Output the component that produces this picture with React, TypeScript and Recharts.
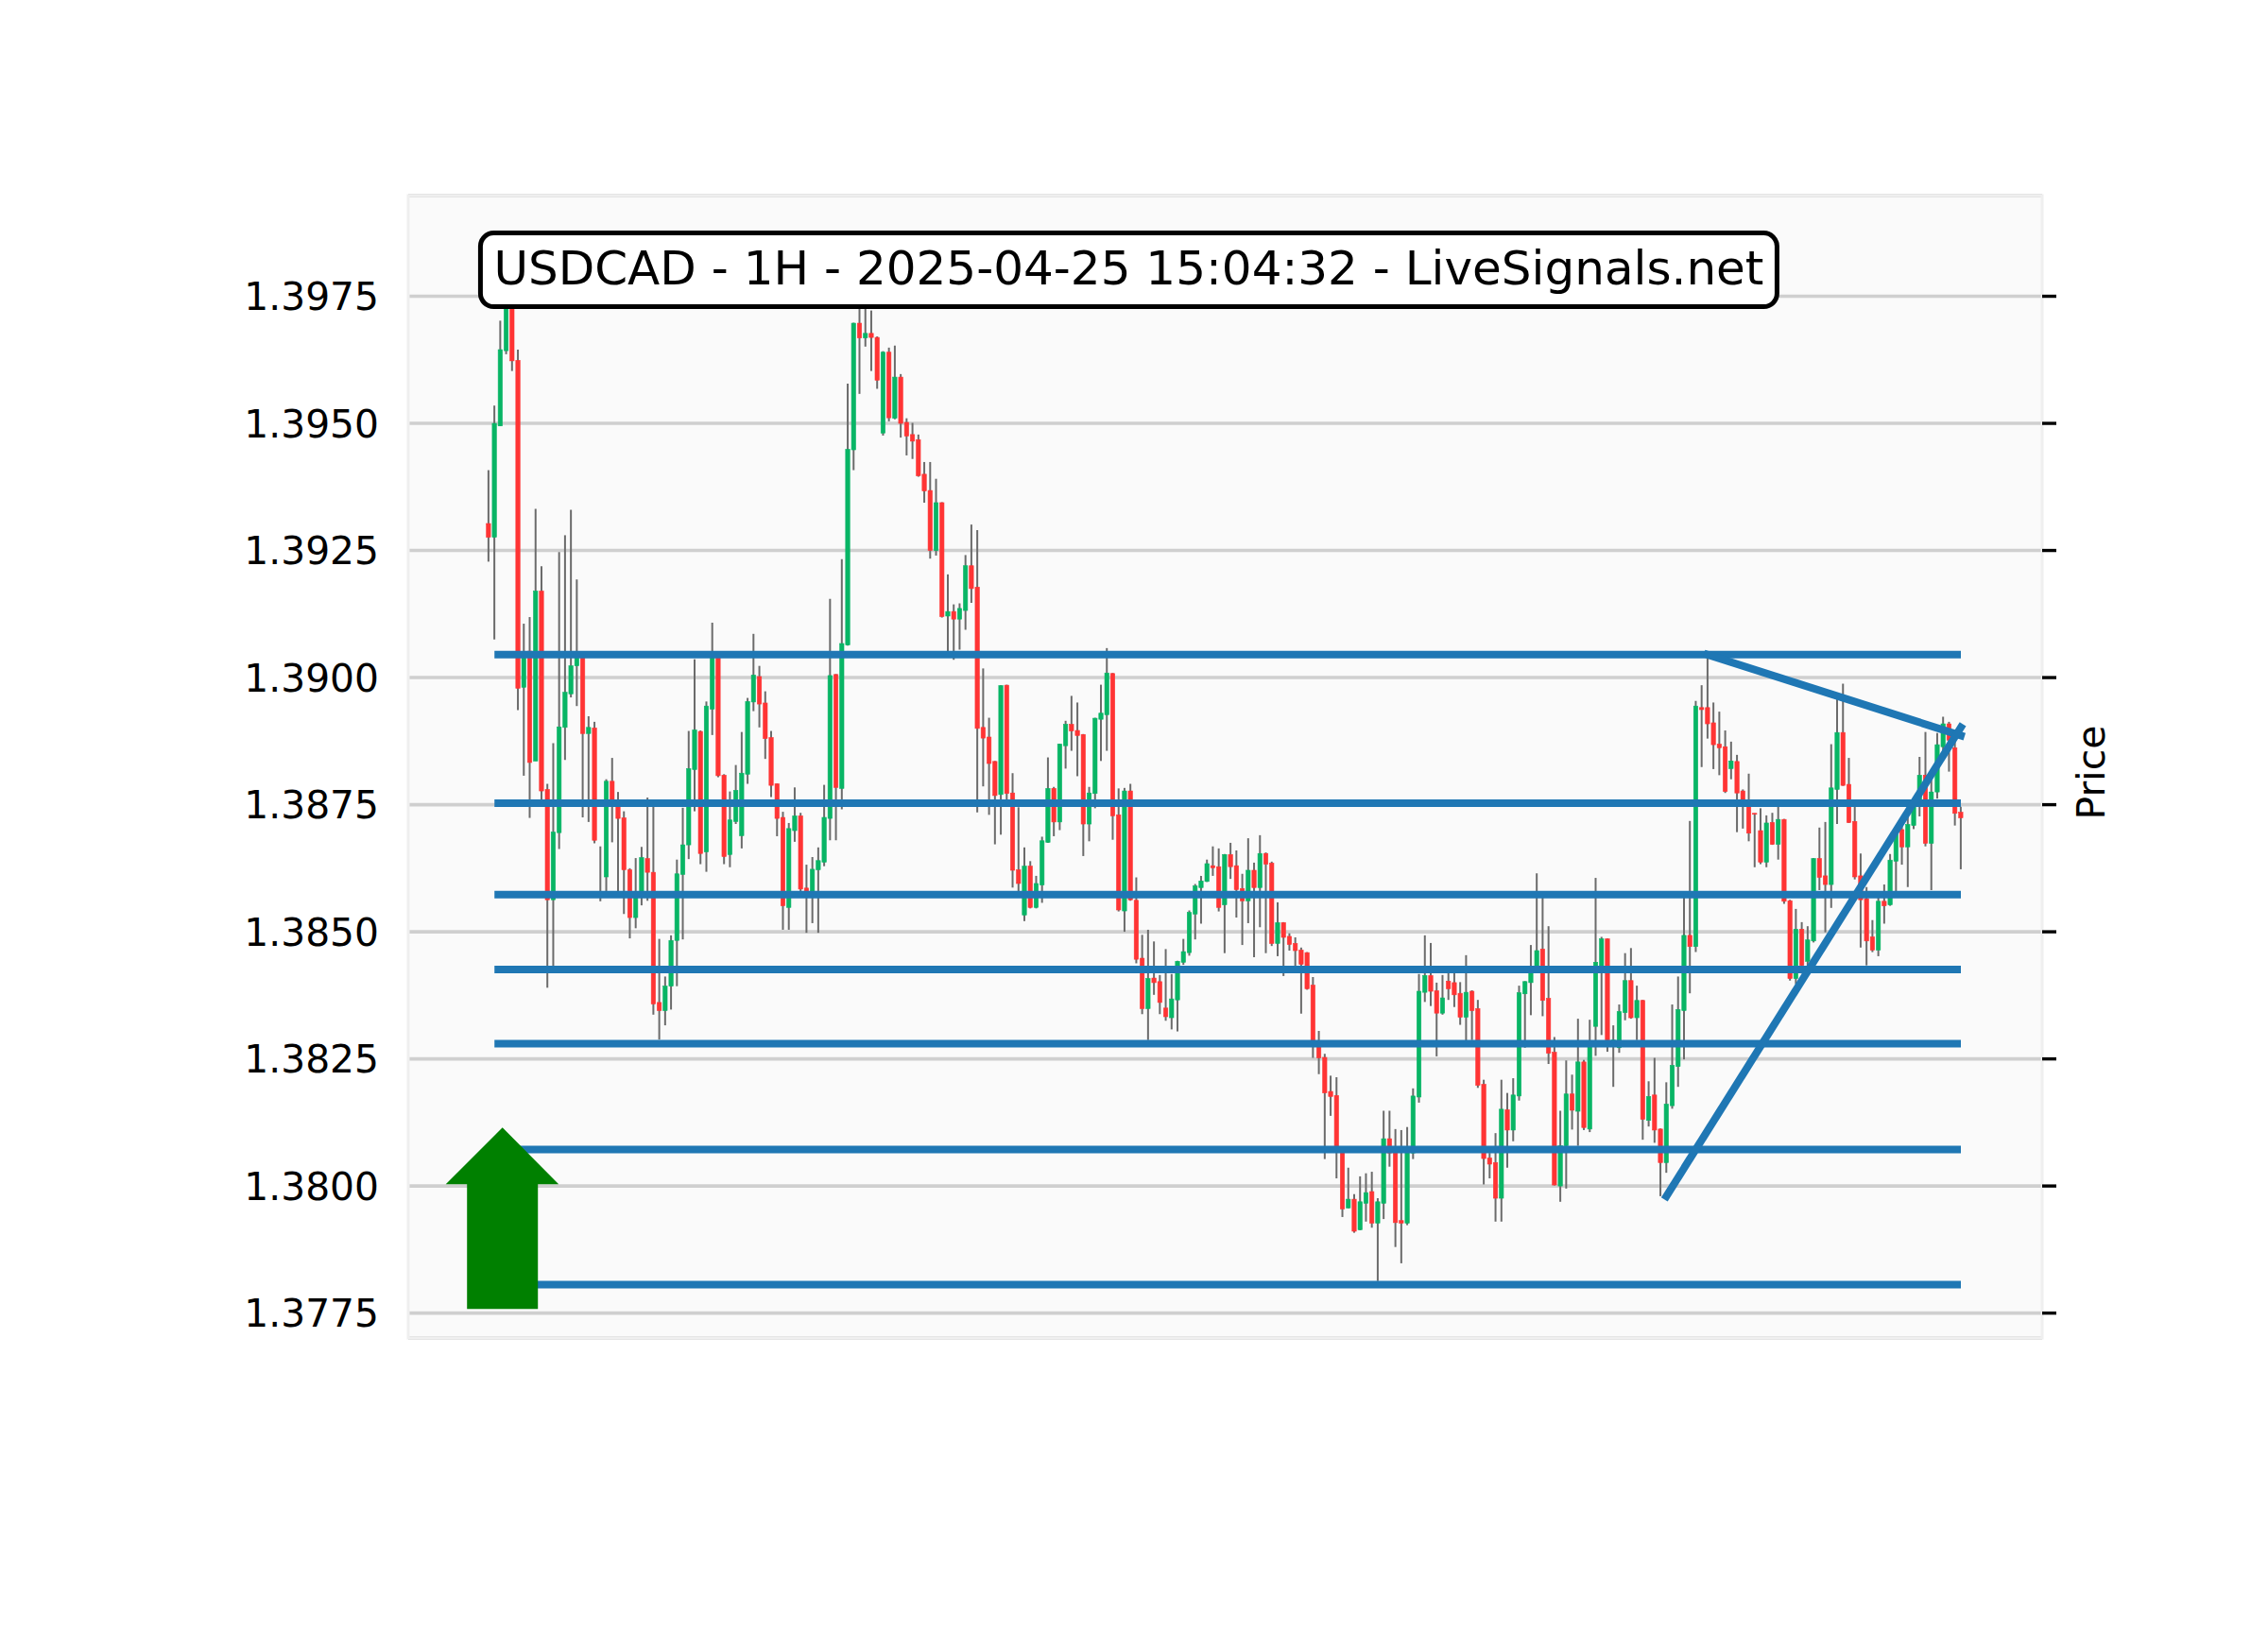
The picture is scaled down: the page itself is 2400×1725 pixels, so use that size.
import React from "react";
import { ComposedChart, Bar, Line, XAxis, YAxis, CartesianGrid, ReferenceDot, ReferenceArea } from "recharts";

const opens = [
1.39303,1.39276,1.39495,1.39643,1.39780,1.39624,1.38981,1.39052,1.38836,1.39170,
1.38780,1.38563,1.38695,1.38902,1.38968,1.39023,1.39039,1.38890,1.38901,1.38568,
1.38608,1.38796,1.38748,1.38724,1.38622,1.38528,1.38574,1.38644,1.38617,1.38361,
1.38345,1.38393,1.38483,1.38613,1.38671,1.38819,1.38894,1.38657,1.38938,1.39040,
1.38808,1.38652,1.38717,1.38689,1.38810,1.38952,1.39002,1.38950,1.38882,1.38791,
1.38725,1.38548,1.38699,1.38728,1.38586,1.38580,1.38622,1.38637,1.38723,1.39006,
1.38782,1.39064,1.39448,1.39697,1.39668,1.39677,1.39669,1.39481,1.39640,1.39510,
1.39591,1.39502,1.39478,1.39468,1.39400,1.39368,1.39250,1.39344,1.39121,1.39130,
1.39115,1.39132,1.39220,1.39178,1.38902,1.38883,1.38835,1.38770,1.38985,1.38773,
1.38622,1.38533,1.38629,1.38548,1.38592,1.38676,1.38782,1.38716,1.38866,1.38908,
1.38896,1.38888,1.38712,1.38772,1.38918,1.38927,1.39008,1.38730,1.38541,1.38777,
1.38562,1.38448,1.38349,1.38409,1.38402,1.38350,1.38331,1.38366,1.38440,1.38459,
1.38535,1.38587,1.38599,1.38630,1.38628,1.38553,1.38652,1.38630,1.38585,1.38561,
1.38621,1.38587,1.38654,1.38635,1.38477,1.38518,1.38491,1.38477,1.38464,1.38459,
1.38395,1.38279,1.38253,1.38186,1.38178,1.38072,1.37957,1.37974,1.37914,1.37966,
1.37989,1.37927,1.37966,1.38093,1.38072,1.37932,1.37927,1.38065,1.38175,1.38381,
1.38414,1.38384,1.38340,1.38403,1.38400,1.38379,1.38332,1.38383,1.38349,1.38200,
1.38055,1.38046,1.37976,1.38150,1.38110,1.38177,1.38378,1.38400,1.38420,1.38466,
1.38369,1.38263,1.38000,1.38079,1.38181,1.38147,1.38244,1.38112,1.38314,1.38421,
1.38486,1.38275,1.38272,1.38341,1.38404,1.38331,1.38365,1.38129,1.38179,1.38112,
1.38046,1.38158,1.38235,1.38345,1.38493,1.38471,1.38941,1.38941,1.38911,1.38869,
1.38864,1.38821,1.38835,1.38777,1.38756,1.38733,1.38699,1.38637,1.38715,1.38672,
1.38721,1.38561,1.38408,1.38505,1.38442,1.38482,1.38644,1.38610,1.38593,1.38780,
1.38892,1.38790,1.38717,1.38610,1.38565,1.38490,1.38464,1.38560,1.38553,1.38639,
1.38701,1.38667,1.38709,1.38760,1.38808,1.38674,1.38775,1.38864,1.38909,1.38862,
1.38735];

const closes = [
1.39276,1.39500,1.39645,1.39780,1.39623,1.38979,1.39047,1.38833,1.39170,1.38777,
1.38563,1.38696,1.38903,1.38971,1.39023,1.39039,1.38890,1.38902,1.38680,1.38578,
1.38796,1.38747,1.38723,1.38622,1.38528,1.38571,1.38646,1.38617,1.38358,1.38345,
1.38393,1.38483,1.38614,1.38671,1.38821,1.38897,1.38654,1.38944,1.39040,1.38807,
1.38648,1.38720,1.38778,1.38812,1.38953,1.39005,1.38948,1.38880,1.38788,1.38723,
1.38551,1.38703,1.38728,1.38584,1.38578,1.38623,1.38640,1.38725,1.39004,1.38784,
1.39067,1.39449,1.39697,1.39668,1.39677,1.39669,1.39585,1.39640,1.39511,1.39591,
1.39500,1.39475,1.39465,1.39397,1.39367,1.39250,1.39344,1.39120,1.39130,1.39115,
1.39136,1.39220,1.39175,1.38900,1.38881,1.38831,1.38768,1.38984,1.38772,1.38621,
1.38595,1.38629,1.38548,1.38595,1.38679,1.38782,1.38716,1.38869,1.38908,1.38895,
1.38886,1.38712,1.38773,1.38920,1.38930,1.39009,1.38728,1.38543,1.38777,1.38563,
1.38446,1.38349,1.38408,1.38400,1.38361,1.38333,1.38368,1.38442,1.38461,1.38538,
1.38590,1.38600,1.38634,1.38626,1.38548,1.38652,1.38628,1.38583,1.38561,1.38621,
1.38587,1.38654,1.38633,1.38477,1.38518,1.38489,1.38475,1.38463,1.38436,1.38388,
1.38282,1.38252,1.38183,1.38176,1.38068,1.37955,1.37974,1.37911,1.37969,1.37987,
1.37927,1.37969,1.38093,1.38065,1.37928,1.37927,1.38072,1.38177,1.38383,1.38414,
1.38383,1.38340,1.38370,1.38388,1.38376,1.38332,1.38381,1.38345,1.38198,1.38054,
1.38043,1.37976,1.38151,1.38110,1.38179,1.38380,1.38402,1.38421,1.38463,1.38365,
1.38261,1.38002,1.38079,1.38181,1.38149,1.38244,1.38115,1.38274,1.38440,1.38486,
1.38287,1.38287,1.38343,1.38404,1.38331,1.38365,1.38131,1.38176,1.38110,1.38046,
1.38161,1.38237,1.38347,1.38493,1.38471,1.38944,1.38937,1.38909,1.38868,1.38862,
1.38776,1.38836,1.38773,1.38758,1.38694,1.38732,1.38637,1.38714,1.38672,1.38721,
1.38560,1.38408,1.38505,1.38434,1.38484,1.38644,1.38607,1.38593,1.38783,1.38892,
1.38788,1.38715,1.38608,1.38563,1.38482,1.38464,1.38560,1.38551,1.38641,1.38692,
1.38667,1.38711,1.38749,1.38808,1.38674,1.38775,1.38868,1.38909,1.38877,1.38733,
1.38724];

const highs = [
1.39408,1.39535,1.39702,1.39810,1.39800,1.39645,1.39106,1.39119,1.39332,1.39219,
1.38791,1.38871,1.39247,1.39280,1.39330,1.39193,1.39045,1.38924,1.38913,1.38668,
1.38800,1.38842,1.38775,1.38737,1.38625,1.38645,1.38667,1.38764,1.38747,1.38486,
1.38412,1.38493,1.38642,1.38744,1.38895,1.39036,1.38896,1.38953,1.39108,1.39045,
1.38810,1.38776,1.38828,1.38893,1.38960,1.39086,1.39023,1.38973,1.38895,1.38792,
1.38736,1.38714,1.38784,1.38734,1.38632,1.38647,1.38666,1.38789,1.39155,1.39007,
1.39233,1.39578,1.39698,1.39735,1.39735,1.39722,1.39671,1.39642,1.39649,1.39653,
1.39597,1.39510,1.39501,1.39478,1.39424,1.39424,1.39391,1.39345,1.39203,1.39144,
1.39146,1.39241,1.39301,1.39290,1.39018,1.38921,1.38836,1.38985,1.38986,1.38812,
1.38745,1.38666,1.38639,1.38610,1.38687,1.38843,1.38785,1.38870,1.38915,1.38964,
1.38951,1.38889,1.38785,1.38921,1.38986,1.39058,1.39009,1.38782,1.38783,1.38791,
1.38607,1.38494,1.38504,1.38481,1.38415,1.38466,1.38417,1.38443,1.38486,1.38542,
1.38594,1.38610,1.38642,1.38668,1.38664,1.38653,1.38675,1.38660,1.38614,1.38684,
1.38636,1.38690,1.38656,1.38638,1.38558,1.38519,1.38497,1.38489,1.38469,1.38460,
1.38411,1.38305,1.38260,1.38217,1.38214,1.38073,1.38036,1.37984,1.38019,1.38025,
1.38028,1.37976,1.38148,1.38148,1.38112,1.38110,1.38116,1.38192,1.38417,1.38493,
1.38478,1.38400,1.38415,1.38423,1.38423,1.38401,1.38454,1.38385,1.38366,1.38209,
1.38065,1.38104,1.38209,1.38183,1.38212,1.38394,1.38403,1.38474,1.38615,1.38568,
1.38511,1.38293,1.38148,1.38247,1.38219,1.38329,1.38248,1.38327,1.38606,1.38490,
1.38487,1.38316,1.38357,1.38458,1.38468,1.38394,1.38366,1.38206,1.38252,1.38113,
1.38204,1.38357,1.38412,1.38568,1.38718,1.38954,1.38985,1.39041,1.38951,1.38933,
1.38896,1.38874,1.38848,1.38780,1.38811,1.38733,1.38743,1.38729,1.38734,1.38746,
1.38722,1.38563,1.38545,1.38519,1.38511,1.38645,1.38705,1.38716,1.38869,1.38959,
1.38988,1.38842,1.38746,1.38654,1.38588,1.38523,1.38568,1.38593,1.38653,1.38705,
1.38710,1.38728,1.38750,1.38844,1.38893,1.38802,1.38891,1.38923,1.38913,1.38877,
1.38746];

const lows = [
1.39228,1.39075,1.39495,1.39636,1.39603,1.38936,1.38807,1.38724,1.38836,1.38758,
1.38390,1.38432,1.38663,1.38838,1.38961,1.38944,1.38725,1.38716,1.38674,1.38560,
1.38578,1.38676,1.38578,1.38535,1.38487,1.38507,1.38552,1.38561,1.38337,1.38288,
1.38316,1.38347,1.38393,1.38485,1.38643,1.38737,1.38633,1.38618,1.38887,1.38804,
1.38633,1.38627,1.38712,1.38664,1.38791,1.38934,1.38902,1.38840,1.38765,1.38688,
1.38504,1.38504,1.38677,1.38580,1.38498,1.38517,1.38498,1.38629,1.38680,1.38680,
1.38741,1.39063,1.39408,1.39558,1.39651,1.39603,1.39568,1.39476,1.39504,1.39508,
1.39472,1.39437,1.39430,1.39395,1.39344,1.39234,1.39240,1.39118,1.39052,1.39035,
1.39055,1.39094,1.39147,1.38735,1.38786,1.38730,1.38672,1.38691,1.38760,1.38587,
1.38578,1.38521,1.38546,1.38546,1.38557,1.38675,1.38688,1.38700,1.38821,1.38856,
1.38806,1.38649,1.38678,1.38743,1.38836,1.38856,1.38681,1.38540,1.38500,1.38561,
1.38438,1.38338,1.38287,1.38376,1.38338,1.38325,1.38308,1.38304,1.38435,1.38453,
1.38485,1.38516,1.38598,1.38610,1.38540,1.38458,1.38604,1.38528,1.38474,1.38517,
1.38450,1.38509,1.38458,1.38472,1.38452,1.38413,1.38463,1.38433,1.38339,1.38386,
1.38252,1.38220,1.38053,1.38138,1.38015,1.37939,1.37956,1.37908,1.37913,1.37930,
1.37918,1.37813,1.37935,1.38038,1.37880,1.37848,1.37923,1.38053,1.38164,1.38362,
1.38354,1.38255,1.38337,1.38366,1.38352,1.38317,1.38282,1.38287,1.38193,1.38003,
1.38015,1.37930,1.37930,1.38036,1.38088,1.38168,1.38272,1.38336,1.38419,1.38334,
1.38240,1.38001,1.37969,1.37995,1.38111,1.38079,1.38110,1.38106,1.38256,1.38297,
1.38264,1.38195,1.38262,1.38326,1.38329,1.38287,1.38091,1.38117,1.38085,1.37980,
1.38026,1.38152,1.38195,1.38249,1.38379,1.38460,1.38824,1.38880,1.38820,1.38808,
1.38773,1.38800,1.38696,1.38703,1.38678,1.38627,1.38633,1.38627,1.38671,1.38642,
1.38555,1.38404,1.38397,1.38418,1.38432,1.38479,1.38582,1.38499,1.38547,1.38712,
1.38787,1.38714,1.38603,1.38469,1.38434,1.38460,1.38452,1.38516,1.38551,1.38578,
1.38632,1.38588,1.38702,1.38727,1.38668,1.38582,1.38762,1.38836,1.38815,1.38709,
1.38623];

const levels = [1.39045, 1.38753, 1.38573, 1.38426, 1.3828, 1.38072, 1.37806];
const levelStart = 1;
const levelEnd = 250;
const resistance = { from: 207, to: 250, fromPrice: 1.39045, toPrice: 1.38886 };
const support = { from: 200, to: 250, fromPrice: 1.3798, toPrice: 1.38902 };
const priceTicks = [1.3775, 1.38, 1.3825, 1.385, 1.3875, 1.39, 1.3925, 1.395, 1.3975];
const titleText = "USDCAD - 1H - 2025-04-25 15:04:32 - LiveSignals.net";
const yDomain = [1.37701, 1.39948];
const xDomain = [-13.64, 263.8];

const UP = "#08b565";
const DOWN = "#ff3434";
const WICK = "#6b6b6b";
const BLUE = "#1f77b4";
const FONT = "'DejaVu Sans', sans-serif";
const LINE_W = 8;

const rows = opens.map((o, i) => {
  const row: any = { i, open: o, close: closes[i], high: highs[i], low: lows[i] };
  levels.forEach((v, k) => {
    row["level" + k] = i >= levelStart && i <= levelEnd ? v : null;
  });
  row.res = i === resistance.from ? resistance.fromPrice : i === resistance.to ? resistance.toPrice : null;
  row.sup = i === support.from ? support.fromPrice : i === support.to ? support.toPrice : null;
  return row;
});

function Candle(props: any) {
  const { x, y, width, height, payload } = props;
  const { open, close, high, low } = payload;
  const h = Math.abs(height);
  const top = Math.min(y, y + height);
  const perPrice = h / (high - low);
  const cx = x + width / 2;
  const bodyTop = top + (high - Math.max(open, close)) * perPrice;
  const bodyH = Math.max(Math.abs(open - close) * perPrice, 1);
  const up = close >= open;
  return (
    <g>
      <line x1={cx} x2={cx} y1={top} y2={top + h} stroke={WICK} strokeWidth={2} />
      <rect x={cx - 2.2} y={bodyTop} width={4.4} height={bodyH} fill={up ? UP : DOWN} stroke={up ? UP : DOWN} strokeWidth={0.6} />
    </g>
  );
}

function Arrow(props: any) {
  const { cx, cy } = props;
  const pts = [
    [cx - 37.5, cy],
    [cx - 37.5, cy - 132],
    [cx - 60, cy - 132],
    [cx, cy - 192],
    [cx + 59.5, cy - 132],
    [cx + 37.5, cy - 132],
    [cx + 37.5, cy],
  ];
  return <polygon points={pts.map((p) => p.join(",")).join(" ")} fill="#008000" />;
}

function TitleBox(props: any) {
  const { cx, cy } = props;
  return (
    <g>
      <rect x={cx - 686} y={cy - 39} width={1372} height={78} rx={14} ry={14} fill="#ffffff" stroke="#000000" strokeWidth={5} />
      <text x={cx} y={cy + 15} textAnchor="middle" fontFamily={FONT} fontSize={50} fill="#000000">
        {titleText}
      </text>
    </g>
  );
}

function PriceLabel(props: any) {
  const { viewBox } = props;
  const x = viewBox.x + 52;
  const y = viewBox.y + viewBox.height / 2 + 6;
  return (
    <text
      x={x}
      y={y}
      textAnchor="middle"
      fontFamily={FONT}
      fontSize={41}
      fill="#000"
      transform={`rotate(-90 ${x} ${y})`}
      dominantBaseline="central"
    >
      Price
    </text>
  );
}

const NoTick = () => <g />;

export default function App() {
  return (
    <div style={{ position: "absolute", left: 0, top: 0, width: 2400, height: 1725, background: "#fff" }}>
      <ComposedChart
        width={2400}
        height={1725}
        data={rows}
        margin={{ top: 207, right: 0, bottom: 309, left: 0 }}
        barCategoryGap={0}
      >
        <CartesianGrid horizontal vertical={false} stroke="#cfcfcf" strokeWidth={3.6} fill="#fafafa" />
        <XAxis dataKey="i" type="number" domain={xDomain} hide allowDataOverflow />
        <YAxis
          type="number"
          domain={yDomain}
          ticks={priceTicks}
          allowDataOverflow
          interval={0}
          width={432}
          axisLine={false}
          tickLine={false}
          tickSize={0}
          tickMargin={31}
          tickFormatter={(v: number) => v.toFixed(4)}
          tick={{ fill: "#000", fontSize: 40.8, fontFamily: FONT }}
        />
        <YAxis
          yAxisId="right"
          orientation="right"
          type="number"
          domain={yDomain}
          ticks={priceTicks}
          allowDataOverflow
          interval={0}
          width={239}
          axisLine={false}
          tickSize={15}
          tickLine={{ stroke: "#000", strokeWidth: 3.4 }}
          tick={NoTick}
          label={<PriceLabel />}
        />
        <ReferenceArea x1={xDomain[0]} x2={xDomain[1]} y1={yDomain[0]} y2={yDomain[1]} fill="none" stroke="#efefef" strokeWidth={3} ifOverflow="visible" />
        <Bar dataKey={(d: any) => [d.low, d.high]} barSize={4} shape={<Candle />} isAnimationActive={false} />
        {levels.map((_, k) => (
          <Line key={k} dataKey={"level" + k} stroke={BLUE} strokeWidth={LINE_W} dot={false} activeDot={false} isAnimationActive={false} connectNulls={false} />
        ))}
        <Line dataKey="res" stroke={BLUE} strokeWidth={LINE_W} strokeLinecap="square" dot={false} activeDot={false} isAnimationActive={false} connectNulls />
        <Line dataKey="sup" stroke={BLUE} strokeWidth={LINE_W} strokeLinecap="square" dot={false} activeDot={false} isAnimationActive={false} connectNulls />
        <ReferenceDot x={2.36} y={1.37758} shape={<Arrow />} ifOverflow="visible" zIndex={3000} />
        <ReferenceDot x={108.7} y={1.39802} shape={<TitleBox />} ifOverflow="visible" zIndex={3000} />
      </ComposedChart>
    </div>
  );
}
